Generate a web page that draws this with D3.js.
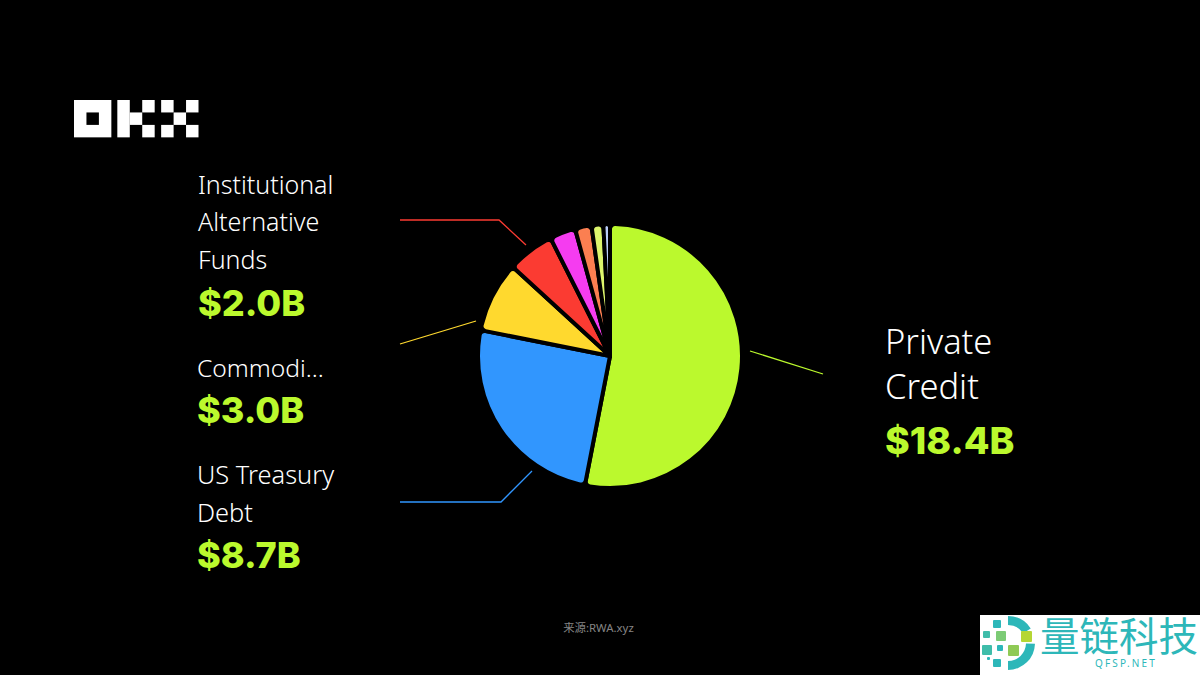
<!DOCTYPE html>
<html>
<head>
<meta charset="utf-8">
<script src="https://cdn.jsdelivr.net/npm/d3@7"></script>
<style>
  html, body { margin: 0; background: #000; }
  svg { display: block; }
  text { font-family: "Noto Sans", "Noto Sans CJK SC", sans-serif; }
</style>
</head>
<body>
<div id="chart"></div>
<script>
// slices clockwise from 12 o'clock, $B
const categories = ["Private Credit", "US Treasury Debt", "Commodities", "Institutional Alternative Funds", "Other 1", "Other 2", "Other 3", "Other 4"];
const values = [18.4, 8.7, 3.0, 2.0, 1.1, 0.7, 0.5, 0.28];
const colors = ["#bbf92d", "#3196fe", "#ffd92e", "#fb3b32", "#f53cf0", "#fb7f51", "#dcf56c", "#b9cdf8"];

const width = 1200, height = 675;
const cx = 610, cy = 356, radius = 132;
const lime = "#bbf92d";

const svg = d3.select("#chart").append("svg")
  .attr("width", width)
  .attr("height", height)
  .attr("viewBox", [0, 0, width, height]);

svg.append("rect").attr("width", width).attr("height", height).attr("fill", "#000");

// pie
const pie = d3.pie().sort(null).value((d) => d);
const arc = d3.arc().innerRadius(0).outerRadius(radius).cornerRadius(5);

svg.append("g")
  .attr("transform", `translate(${cx},${cy})`)
  .selectAll("path")
  .data(pie(values))
  .join("path")
  .attr("d", arc)
  .attr("fill", (d, i) => colors[i])
  .attr("stroke", "#000")
  .attr("stroke-width", 4)
  .attr("stroke-linejoin", "round");

// leader lines
const leaders = [
  { color: "#bbf92d", pts: [[750, 351], [823, 374]] },
  { color: "#3196fe", pts: [[532, 471], [501, 502], [400, 502]] },
  { color: "#ffd92e", pts: [[476, 321], [400, 344]] },
  { color: "#fb3b32", pts: [[526, 245], [499, 220], [400, 220]] },
];
svg.append("g")
  .attr("fill", "none")
  .attr("stroke-width", 1.3)
  .selectAll("path")
  .data(leaders)
  .join("path")
  .attr("stroke", (d) => d.color)
  .attr("d", (d) => d3.line()(d.pts));

// labels
const labels = [
  { x: 885, size: 34.5, lines: [["Private", 354], ["Credit", 399]], value: "$18.4B", valueY: 454, valueSize: 37.5 },
  { x: 197, size: 25.4, lines: [["US Treasury", 484], ["Debt", 522]], value: "$8.7B", valueY: 568, valueSize: 36 },
  { x: 197, size: 24.6, lines: [["Commodi...", 377]], value: "$3.0B", valueY: 423, valueSize: 36 },
  { x: 198, size: 25, lines: [["Institutional", 194], ["Alternative", 231], ["Funds", 269]], value: "$2.0B", valueY: 316, valueSize: 36 },
];
labels.forEach((l) => {
  const g = svg.append("g").attr("transform", `translate(${l.x},0)`);
  g.selectAll("text.name").data(l.lines).join("text")
    .attr("class", "name")
    .attr("y", (d) => d[1])
    .attr("fill", "#fff")
    .attr("font-size", l.size)
    .attr("font-weight", 300)
    .text((d) => d[0]);
  g.append("text")
    .attr("y", l.valueY)
    .attr("fill", lime)
    .attr("font-size", l.valueSize)
    .attr("font-weight", 800)
    .style("font-family", "Inter")
    .text(l.value);
});

// source note
svg.append("text")
  .attr("x", 598.5).attr("y", 632)
  .attr("text-anchor", "middle")
  .attr("fill", "#858585")
  .attr("font-size", 11.4)
  .text("来源:RWA.xyz");

// OKX logo, 12.45px grid
const logoCells = [
  [0, 0, 3, 3], [3.48, 0, 1, 3], [4.48, 1, 1, 1], [5.48, 0, 1, 1], [5.48, 2, 1, 1],
  [7, 0, 1, 1], [7, 2, 1, 1], [8, 1, 1, 1], [9, 0, 1, 1], [9, 2, 1, 1],
];
const logo = svg.append("g").attr("transform", "translate(74,100)").attr("fill", "#fff");
logo.selectAll("rect").data(logoCells).join("rect")
  .attr("x", (d) => d[0] * 12.45).attr("y", (d) => d[1] * 12.45)
  .attr("width", (d) => d[2] * 12.45).attr("height", (d) => d[3] * 12.45);
logo.append("rect").attr("x", 12.45).attr("y", 12.45).attr("width", 12.45).attr("height", 12.45).attr("fill", "#000");

// watermark
const mark = svg.append("g").attr("transform", "translate(980,615)");
mark.append("rect").attr("width", 220).attr("height", 60).attr("fill", "#fff");
const ringArc = d3.arc().innerRadius(18).outerRadius(27);
mark.selectAll("path.ring").data([[0, 1], [1.6, Math.PI]]).join("path")
  .attr("class", "ring")
  .attr("transform", "translate(28,28)")
  .attr("fill", "#2db7b9")
  .attr("d", (d) => ringArc({ startAngle: d[0], endAngle: d[1] }));
const markSquares = [
  [13, 5, 8, "#2db7b9"], [3, 16, 7, "#3fbdaa"], [16, 16, 10, "#7ccb75"], [41, 16, 11, "#b5d634"],
  [2, 30, 10, "#3fbdaa"], [17, 30, 6, "#2db7b9"], [28, 30, 11, "#8fca55"], [7, 42, 3, "#2db7b9"], [13, 44, 8, "#2db7b9"],
];
mark.selectAll("rect.sq").data(markSquares).join("rect")
  .attr("class", "sq")
  .attr("x", (d) => d[0]).attr("y", (d) => d[1])
  .attr("width", (d) => d[2]).attr("height", (d) => d[2])
  .attr("rx", 1)
  .attr("fill", (d) => d[3]);
mark.append("text")
  .attr("x", 60).attr("y", 36)
  .attr("fill", "#2db7b9")
  .attr("font-size", 39.5)
  .attr("font-family", "Noto Sans CJK SC")
  .text("量链科技");
mark.append("text")
  .attr("x", 146).attr("y", 52)
  .attr("text-anchor", "middle")
  .attr("fill", "#2db7b9")
  .attr("font-size", 10)
  .attr("letter-spacing", 2.2)
  .text("QFSP.NET");
</script>
</body>
</html>
